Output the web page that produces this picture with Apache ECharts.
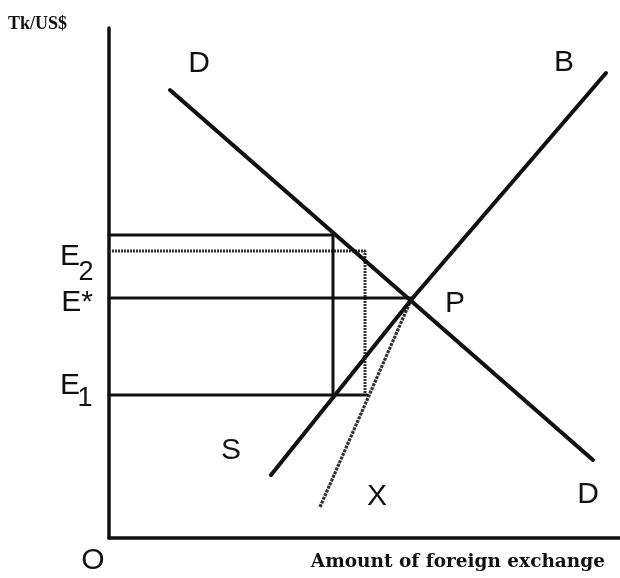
<!DOCTYPE html>
<html><head><meta charset="utf-8">
<script src="https://cdn.jsdelivr.net/npm/echarts@6/dist/echarts.min.js"></script>
<style>html,body{margin:0;padding:0;background:#fff}#c{width:620px;height:578px}</style>
</head><body><div id="c"></div>
<script>
// Curves (data units: quantity of foreign exchange, Tk/US$ rate)
const demandD = [[12.2, 89.6], [96.8, 15.6]];
const supplyB = [[32.4, 12.6], [60.4, 47.6], [99.4, 93]];
const curveX = [[42.2, 6.2], [60.4, 47.6]];
// Exchange-rate levels
const rateE2 = 60.6, rateE2b = 57.4, rateEstar = 48, rateE1 = 28.6;
// Quantities
const qtyE2 = 44.8, qtyDot = 51.2, qtyP = 60.4, qtyE1 = 51.6;

const chart = echarts.init(document.getElementById('c'), null, {renderer: 'canvas'});
const solid = (w) => ({color: '#111', width: w, type: 'solid', cap: 'round', join: 'miter'});
const dotted = {color: '#333', width: 3, type: [2, 1]};
const ln = (data, style) => ({type: 'line', data: data, symbol: 'none', lineStyle: style, silent: true, animation: false, z: 3});

const option = {
  animation: false,
  backgroundColor: '#fff',
  grid: {left: 109, right: 0, top: 28, bottom: 40},
  xAxis: {type: 'value', min: 0, max: 102.2, axisLine: {show: true, onZero: false, lineStyle: {color: '#111', width: 3.5}}, axisTick: {show: false}, axisLabel: {show: false}, splitLine: {show: false}},
  yAxis: {type: 'value', min: 0, max: 102, axisLine: {show: true, onZero: false, lineStyle: {color: '#111', width: 3.5}}, axisTick: {show: false}, axisLabel: {show: false}, splitLine: {show: false}},
  series: [
    ln([[0, rateE2b], [qtyDot, rateE2b], [qtyDot, rateE1]], dotted),
    ln(curveX, {color: '#333', width: 3.2, type: [3, 1]}),
    ln([[0, rateE2], [qtyE2, rateE2], [qtyE2, rateE1]], solid(3)),
    ln([[0, rateEstar], [qtyP, rateEstar]], solid(3)),
    ln([[0, rateE1], [qtyE1, rateE1]], solid(3)),
    ln(demandD, solid(4)),
    ln(supplyB, solid(4))
  ]
};
chart.setOption(option);

const sans = '30px "Liberation Sans", Arial, sans-serif';
const t = (s, x, y, extra) => ({type: 'text', x: x, y: y, silent: true,
  style: Object.assign({text: s, fill: '#111', font: sans, align: 'center', verticalAlign: 'middle'}, extra || {})});
chart.setOption({graphic: [
  t('Tk/US$', 8, 24, {align: 'left', font: 'bold 18px "Liberation Serif", serif'}),
  t('D', 199, 64),
  t('B', 564, 63),
  t('P', 455, 304),
  t('S', 231, 451),
  t('X', 377, 497),
  t('D', 588, 495),
  t('O', 93, 561),
  t('E', 70, 257),
  t('2', 86, 273, {font: '27px "Liberation Sans", Arial, sans-serif'}),
  t('E*', 77, 303),
  t('E', 70, 386),
  t('1', 85, 399, {font: '27px "Liberation Sans", Arial, sans-serif'}),
  t('Amount of foreign exchange', 605, 562, {align: 'right', font: 'bold 18.5px "DejaVu Serif", serif'})
]});
</script></body></html>
